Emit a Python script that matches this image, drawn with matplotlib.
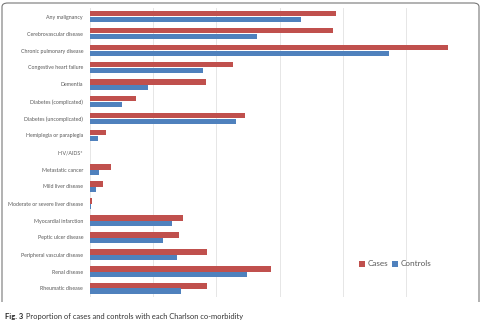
import matplotlib.pyplot as plt
import numpy as np
from matplotlib.patches import FancyBboxPatch, Rectangle

plt.rcParams['font.family'] = ['Lato', 'DejaVu Sans']

categories = ["Any malignancy", "Cerebrovascular disease", "Chronic pulmonary disease",
              "Congestive heart failure", "Dementia", "Diabetes (complicated)",
              "Diabetes (uncomplicated)", "Hemiplegia or paraplegia", "HIV/AIDS*",
              "Metastatic cancer", "Mild liver disease", "Moderate or severe liver disease",
              "Myocardial infarction", "Peptic ulcer disease", "Peripheral vascular disease",
              "Renal disease", "Rheumatic disease"]
cases = [19.45, 19.25, 28.3, 11.3, 9.2, 3.65, 12.3, 1.25, 0, 1.7, 1.0, 0.18,
         7.35, 7.05, 9.25, 14.35, 9.25]
controls = [16.7, 13.2, 23.7, 8.95, 4.6, 2.55, 11.55, 0.6, 0, 0.7, 0.45, 0.04,
            6.5, 5.8, 6.9, 12.45, 7.2]
xticks = [0, 5, 10, 15, 20, 25, 30]

red = "#C0504D"
blue = "#4F81BD"

fig = plt.figure(figsize=(4.82, 3.22), dpi=100)
W, H = 482, 322
ax = fig.add_axes([90 / W, 1 - 297 / H, 379 / W, 289 / H])

y = np.arange(len(categories))
h = 0.3
ax.barh(y - h / 2, cases, height=h, color=red, label="Cases", zorder=3)
ax.barh(y + h / 2, controls, height=h, color=blue, label="Controls", zorder=3)

ax.set_ylim(len(categories) - 0.5, -0.5)
ax.set_xlim(0, 30)
ax.set_yticks(y)
ax.set_yticklabels(categories, fontsize=3.75, color="#595959")
ax.set_xticks(xticks)
ax.set_xticklabels([str(t) for t in xticks], fontsize=3.75, color="#595959")
ax.tick_params(length=0, pad=5)
ax.tick_params(axis="x", pad=6)
ax.grid(axis="x", color="#e6e6e6", linewidth=0.7, zorder=0)
for s in ax.spines.values():
    s.set_visible(False)

ax.legend(loc="center left", bbox_to_anchor=(355 / W, 1 - 264 / H),
          bbox_transform=fig.transFigure, ncol=2, frameon=False, fontsize=5.9,
          handlelength=0.7, handleheight=0.7, handletextpad=0.3, columnspacing=0.5,
          labelcolor="#595959", borderpad=0)

# rounded frame around the chart
frame = FancyBboxPatch((2 / W, 1 - 306 / H), 477 / W, 303 / H,
                       boxstyle="round,pad=0,rounding_size=0.012",
                       transform=fig.transFigure, fill=False,
                       edgecolor="#777777", linewidth=0.8)
fig.patches.append(frame)
fig.patches.append(Rectangle((0, 1 - 310 / H), 1, 8 / H, transform=fig.transFigure,
                             facecolor="white", edgecolor="none"))

t1 = fig.text(5 / W, 1 - 316 / H, "Fig. 3", fontsize=5.4, fontweight="bold",
              va="center", ha="left", color="#222222")
fig.canvas.draw()
bb = t1.get_window_extent()
fig.text((bb.x1 + 3) / W, 1 - 316 / H,
         "Proportion of cases and controls with each Charlson co-morbidity",
         fontsize=5.4, va="center", ha="left", color="#333333")

fig.savefig("out.png", dpi=100)
